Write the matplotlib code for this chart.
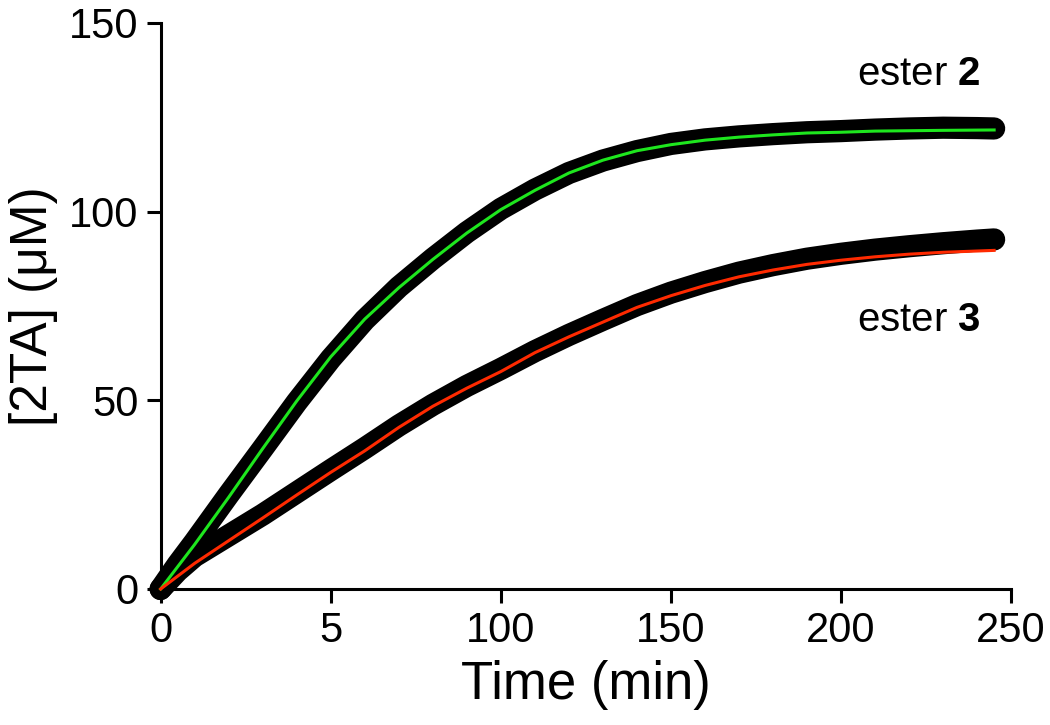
import matplotlib
matplotlib.use("Agg")
import matplotlib.pyplot as plt

plt.rcParams['font.family'] = ['Liberation Sans', 'DejaVu Sans']
plt.rcParams['mathtext.fontset'] = 'custom'
plt.rcParams['mathtext.rm'] = 'Liberation Sans'
plt.rcParams['mathtext.bf'] = 'Liberation Sans:bold'

# ----- data -----
t_data = [0, 5, 10, 20, 30, 40, 50, 60, 70, 80, 90, 100, 110, 120, 130,
          140, 150, 160, 170, 180, 190, 200, 210, 220, 230, 240, 245]
ester2_data = [0, 6.5, 12.5, 25, 37.2, 49.5, 61, 71.3, 80, 87.5, 94.5, 100.7,
               105.8, 110.2, 113.5, 116, 117.9, 119.1, 119.9, 120.5, 121, 121.3,
               121.7, 122, 122.2, 122.1, 122]
ester3_data = [0, 4.8, 8.7, 14.2, 19.7, 25.6, 31.5, 37.3, 43.3, 48.8, 53.8, 58.3,
               63, 67.3, 71.3, 75.2, 78.5, 81.3, 83.8, 85.8, 87.5, 88.8, 89.9,
               90.8, 91.6, 92.3, 92.6]

t_fit = [0, 10, 20, 30, 40, 50, 60, 70, 80, 90, 100, 110, 120, 130, 140,
         150, 160, 170, 180, 190, 200, 210, 220, 230, 245]
ester2_fit = [0, 11.8, 24.3, 37.2, 49.8, 61.5, 71.5, 79.8, 87.3, 94.3, 100.5,
              105.6, 110.2, 113.6, 116.1, 117.7, 118.9, 119.7, 120.3, 120.8,
              121, 121.3, 121.4, 121.5, 121.6]
ester3_fit = [0, 6.8, 12.8, 18.8, 24.9, 30.9, 36.6, 42.8, 48.4, 53.2, 57.6,
              62.6, 66.8, 70.7, 74.6, 77.7, 80.4, 82.7, 84.5, 86, 87.1, 88,
              88.7, 89.2, 89.7]

xticks = [0, 50, 100, 150, 200, 250]
xtick_labels = ['0', '5', '100', '150', '200', '250']
yticks = [0, 50, 100, 150]

fig = plt.figure(figsize=(10.5, 7.25), dpi=100)
ax = fig.add_axes([0.153, 0.1876, 0.81, 0.781])

# raw data as thick black bands, fits on top
ax.plot(t_data, ester2_data, color='black', lw=16, solid_capstyle='round',
        solid_joinstyle='round', clip_on=False, zorder=3)
ax.plot(t_data, ester3_data, color='black', lw=16, solid_capstyle='round',
        solid_joinstyle='round', clip_on=False, zorder=3)
ax.plot(t_fit, ester2_fit, color='#1ee61e', lw=2.2, clip_on=False, zorder=4)
ax.plot(t_fit, ester3_fit, color='#ff2a00', lw=2.2, clip_on=False, zorder=4)

ax.text(241, 136.5, r'ester $\mathbf{2}$', fontsize=29, ha='right', va='center')
ax.text(241, 71.3, r'ester $\mathbf{3}$', fontsize=29, ha='right', va='center')

ax.set_xlim(0, 250)
ax.set_ylim(0, 150)
ax.set_xticks(xticks)
ax.set_xticklabels(xtick_labels)
ax.set_yticks(yticks)

for s in ['top', 'right']:
    ax.spines[s].set_visible(False)
for s in ['left', 'bottom']:
    ax.spines[s].set_linewidth(2.2)

ax.tick_params(axis='both', labelsize=30, length=10, width=2.2, pad=6)
ax.set_xlabel('Time (min)', fontsize=38, labelpad=6)
ax.set_ylabel('[2TA] (μM)', fontsize=37, labelpad=8)

fig.savefig('out.png', dpi=100)
